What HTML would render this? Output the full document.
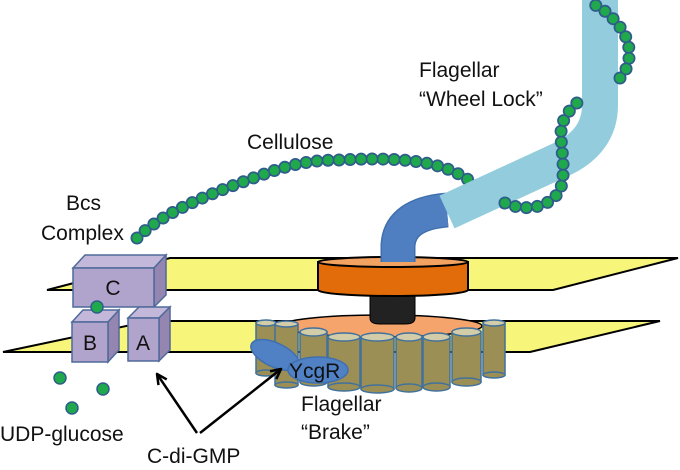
<!DOCTYPE html>
<html><head><meta charset="utf-8"><style>
body{margin:0;background:#fff}
svg text{font-family:"Liberation Sans",sans-serif;fill:#111}
</style></head><body>
<svg width="680" height="465" viewBox="0 0 680 465" xmlns="http://www.w3.org/2000/svg">
<defs>
<marker id="ah" viewBox="0 0 10 10" refX="9" refY="5" markerWidth="5" markerHeight="5" orient="auto">
<path d="M1,1 L9,5 L1,9" fill="none" stroke="#000" stroke-width="2"/>
</marker>
</defs>
<!-- membranes -->
<polygon points="47,290 170,258 678,258 553,290" fill="#F7F57A" stroke="#000" stroke-width="2"/>
<polygon points="3,352 150,321 660,321 530,352" fill="#F7F57A" stroke="#000" stroke-width="2"/>
<!-- lower disc -->
<ellipse cx="381" cy="326" rx="101" ry="11" fill="#F5A46C" stroke="#000" stroke-width="1.5"/>
<!-- stem -->
<path d="M370,292 L370,318 Q370,324 380,324 L405,324 Q415,324 415,318 L415,292 Z" fill="#222" stroke="#000"/>
<!-- upper disc -->
<path d="M318,262 L318,290 A75,6 0 0 0 468,290 L468,262 Z" fill="#E36C0A" stroke="#000" stroke-width="2"/>
<ellipse cx="393" cy="262" rx="75" ry="5" fill="#F2A261" stroke="#000" stroke-width="2"/>
<!-- hook -->
<path d="M398,262 L398,245 Q400,214 447,210" fill="none" stroke="#3F6FAE" stroke-width="35"/>
<path d="M398,262 L398,245 Q400,214 447,210" fill="none" stroke="#4F7FC0" stroke-width="32"/>
<!-- chain A -->
<g fill="none" stroke-linecap="round" stroke-dasharray="0 11">
<path d="M137,238 C160,215 200,198 240,183 C280,168 300,160 340,160 C380,158 420,158 450,170 C475,180 490,200 505,203" stroke="#2F5D8A" stroke-width="13"/>
<path d="M137,238 C160,215 200,198 240,183 C280,168 300,160 340,160 C380,158 420,158 450,170 C475,180 490,200 505,203" stroke="#1FA84C" stroke-width="9.5"/>
</g>
<!-- filament -->
<path d="M447,212 L560,160 Q600,142 600,105 L600,0" fill="none" stroke="#93CDDD" stroke-width="36"/>
<g fill="none" stroke-linecap="round" stroke-dasharray="0 11">
<path d="M505,203 C525,212 550,208 560,190 C568,170 558,140 562,125 C566,112 575,105 580,100" stroke="#2F5D8A" stroke-width="13"/>
<path d="M505,203 C525,212 550,208 560,190 C568,170 558,140 562,125 C566,112 575,105 580,100" stroke="#1FA84C" stroke-width="9.5"/>
<path d="M620,78 C632,65 632,45 622,30 C614,18 605,10 595,5" stroke="#2F5D8A" stroke-width="13"/>
<path d="M620,78 C632,65 632,45 622,30 C614,18 605,10 595,5" stroke="#1FA84C" stroke-width="9.5"/>
</g>
<!-- cylinders -->
<g stroke="#41719C" stroke-width="1.5">
<g fill="#9B8F55">
<rect x="256" y="323" width="20" height="50"/><ellipse cx="266" cy="373" rx="10" ry="3"/>
<rect x="275" y="324" width="23" height="61"/><ellipse cx="286.5" cy="385" rx="11.5" ry="3"/>
<rect x="483" y="323" width="22" height="52"/><ellipse cx="494" cy="375" rx="11" ry="3"/>
</g>
<ellipse cx="266" cy="323" rx="10" ry="3" fill="#D3CCA8"/>
<ellipse cx="286.5" cy="324" rx="11.5" ry="3" fill="#D3CCA8"/>
<ellipse cx="494" cy="323" rx="11" ry="3" fill="#D3CCA8"/>
<g fill="#9B8F55">
<rect x="300" y="332" width="27" height="50"/><ellipse cx="313.5" cy="382" rx="13.5" ry="4"/>
<rect x="452" y="332" width="29" height="50"/><ellipse cx="466.5" cy="382" rx="14.5" ry="4"/>
</g>
<ellipse cx="313.5" cy="332" rx="13.5" ry="4" fill="#D3CCA8"/>
<ellipse cx="466.5" cy="332" rx="14.5" ry="4" fill="#D3CCA8"/>
<g fill="#9B8F55">
<rect x="328" y="337" width="32" height="50"/><ellipse cx="344" cy="387" rx="16" ry="4"/>
<rect x="361" y="337" width="33" height="52"/><ellipse cx="377.5" cy="389" rx="16.5" ry="4"/>
<rect x="396" y="337" width="26" height="51"/><ellipse cx="409" cy="388" rx="13" ry="4"/>
<rect x="423" y="337" width="27" height="50"/><ellipse cx="436.5" cy="387" rx="13.5" ry="4"/>
</g>
<ellipse cx="344" cy="337" rx="16" ry="4" fill="#D3CCA8"/>
<ellipse cx="377.5" cy="337" rx="16.5" ry="4" fill="#D3CCA8"/>
<ellipse cx="409" cy="337" rx="13" ry="4" fill="#D3CCA8"/>
<ellipse cx="436.5" cy="337" rx="13.5" ry="4" fill="#D3CCA8"/>
</g>
<!-- YcgR -->
<ellipse cx="275" cy="355" rx="26" ry="12" transform="rotate(25 275 355)" fill="#4F81C4" stroke="#3F6FAE" stroke-width="1.5"/>
<ellipse cx="318" cy="370" rx="30" ry="13" fill="#4F81C4" stroke="#3F6FAE" stroke-width="1.5"/>
<text x="289" y="378" font-size="21">YcgR</text>
<!-- boxes -->
<g stroke="#4F6A9A" stroke-width="1.5">
<polygon points="73,268 85,255 166,255 154,268" fill="#C3B8DA"/>
<polygon points="154,268 166,255 166,295 154,307" fill="#9486B0"/>
<rect x="73" y="268" width="81" height="39" fill="#B1A4CC"/>
<polygon points="72,322 83,310 119,310 108,322" fill="#C3B8DA"/>
<polygon points="108,322 119,310 119,350 108,362" fill="#9486B0"/>
<rect x="72" y="322" width="36" height="40" fill="#B1A4CC"/>
<polygon points="128,318 139,307 170,307 159,318" fill="#C3B8DA"/>
<polygon points="159,318 170,307 170,350 159,361" fill="#9486B0"/>
<rect x="128" y="318" width="31" height="43" fill="#B1A4CC"/>
</g>
<text x="113" y="295" font-size="21" text-anchor="middle">C</text>
<text x="90" y="350" font-size="21" text-anchor="middle">B</text>
<text x="143" y="350" font-size="21" text-anchor="middle">A</text>
<!-- dots -->
<g fill="#1FA84C" stroke="#2F5D8A" stroke-width="1.5">
<circle cx="97" cy="307" r="6"/><circle cx="60" cy="378" r="6"/><circle cx="103" cy="389" r="6"/><circle cx="72" cy="408" r="6"/>
</g>
<!-- arrows -->
<g stroke="#000" stroke-width="2.5" fill="none">
<path d="M197,433 L157,374" marker-end="url(#ah)"/>
<path d="M200,433 L281,369" marker-end="url(#ah)"/>
</g>
<!-- labels -->
<g font-size="21">
<text x="66" y="210">Bcs</text>
<text x="41" y="240">Complex</text>
<text x="247" y="149">Cellulose</text>
<text x="419" y="77">Flagellar</text>
<text x="419" y="106">“Wheel Lock”</text>
<text x="301" y="411">Flagellar</text>
<text x="301" y="439">“Brake”</text>
<text x="0" y="441">UDP-glucose</text>
<text x="147" y="463">C-di-GMP</text>
</g>
</svg>
</body></html>
